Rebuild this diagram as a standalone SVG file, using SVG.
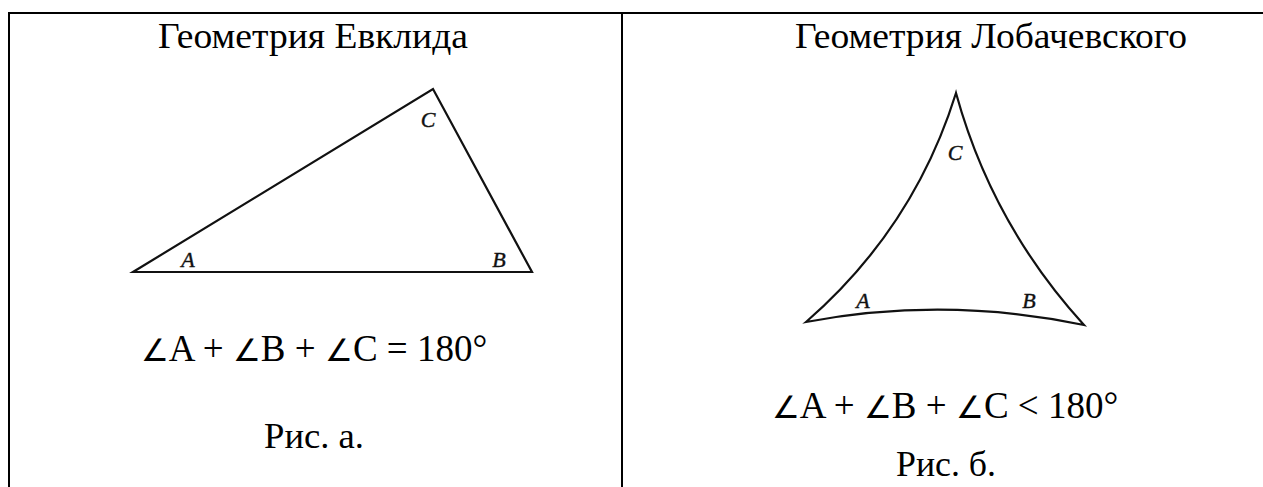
<svg xmlns="http://www.w3.org/2000/svg" width="1263" height="487" viewBox="0 0 1263 487">
<style>
.t{font-family:"Liberation Serif","Times New Roman",serif;fill:#000;text-anchor:middle}
.title{font-size:36px}
.cap{font-size:36px}
.f{font-size:37px}
.ang{font-size:31px}
.lbl{font-family:"Liberation Serif",serif;font-style:italic;font-size:22px;fill:#111;text-anchor:middle;stroke:#111;stroke-width:0.4}
.edge{fill:none;stroke:#111;stroke-width:2.2;stroke-linejoin:miter}
.border{stroke:#000;stroke-width:2;fill:none}
</style>
<rect width="1263" height="487" fill="#fff"/>
<g id="table">
<line class="border" x1="8" y1="13" x2="1263" y2="13"/>
<line class="border" x1="9" y1="12" x2="9" y2="487"/>
<line class="border" x1="622" y1="12" x2="622" y2="487"/>
</g>
<g id="euclid">
<text class="t title" x="313" y="48" textLength="310" lengthAdjust="spacingAndGlyphs">Геометрия Евклида</text>
<path class="edge" d="M133,272 L532,272 L433,89 Z"/>
<text class="lbl" x="188" y="267">A</text>
<text class="lbl" x="499" y="267">B</text>
<text class="lbl" x="428" y="127">C</text>
<text class="t f" x="314" y="361"><tspan class="ang">∠</tspan>A + <tspan class="ang">∠</tspan>B + <tspan class="ang">∠</tspan>C = 180°</text>
<text class="t cap" x="314" y="448" textLength="100" lengthAdjust="spacingAndGlyphs">Рис. а.</text>
</g>
<g id="lobachevsky">
<text class="t title" x="991" y="48" textLength="392" lengthAdjust="spacingAndGlyphs">Геометрия Лобачевского</text>
<path class="edge" d="M956,93 Q914,228 806,322 Q945,296 1084,325 Q992,224 956,93 Z"/>
<text class="lbl" x="863" y="308">A</text>
<text class="lbl" x="1029" y="308">B</text>
<text class="lbl" x="955" y="160">C</text>
<text class="t f" x="945" y="418"><tspan class="ang">∠</tspan>A + <tspan class="ang">∠</tspan>B + <tspan class="ang">∠</tspan>C &lt; 180°</text>
<text class="t cap" x="946" y="476" textLength="100" lengthAdjust="spacingAndGlyphs">Рис. б.</text>
</g>
</svg>
